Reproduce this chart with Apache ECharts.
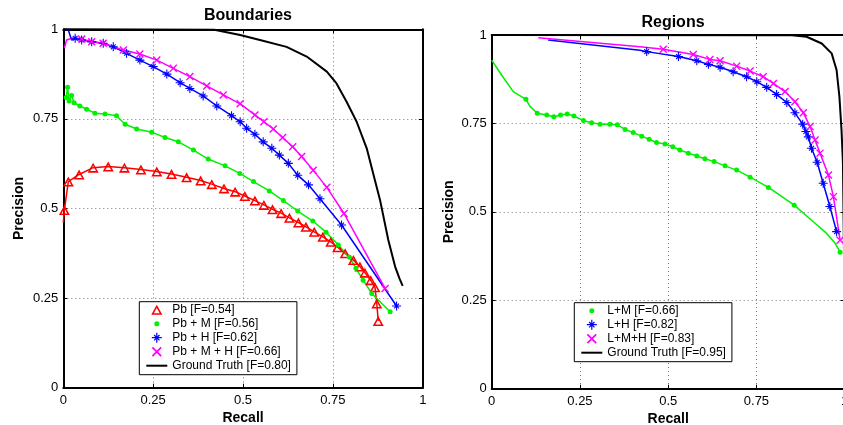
<!DOCTYPE html>
<html>
<head>
<meta charset="utf-8">
<script src="https://cdn.jsdelivr.net/npm/echarts@6/dist/echarts.min.js"></script>
<style>
html,body{margin:0;padding:0;background:#fff;}
#chart{width:843px;height:425px;}
</style>
</head>
<body>
<div id="chart"></div>
<script>
// ---------- data (recall, precision) ----------
const tickValues = [0, 0.25, 0.5, 0.75, 1];
const tickLabels = ['0', '0.25', '0.5', '0.75', '1'];

const leftTitle = 'Boundaries';
const rightTitle = 'Regions';
const xName = 'Recall';
const yName = 'Precision';

const leftNames = ['Pb [F=0.54]', 'Pb + M [F=0.56]', 'Pb + H [F=0.62]', 'Pb + M + H [F=0.66]', 'Ground Truth [F=0.80]'];
const rightNames = ['L+M [F=0.66]', 'L+H [F=0.82]', 'L+M+H [F=0.83]', 'Ground Truth [F=0.95]'];

const pb = [[0,0.46],[0.003,0.496],[0.014,0.575],[0.044,0.595],[0.083,0.614],[0.125,0.617],[0.170,0.614],[0.216,0.609],[0.260,0.603],[0.301,0.596],[0.343,0.587],[0.382,0.578],[0.413,0.568],[0.447,0.556],[0.478,0.547],[0.505,0.535],[0.533,0.522],[0.558,0.510],[0.582,0.498],[0.606,0.487],[0.629,0.474],[0.654,0.461],[0.675,0.449],[0.698,0.435],[0.722,0.421],[0.744,0.407],[0.763,0.392],[0.784,0.375],[0.807,0.356],[0.825,0.338],[0.839,0.321],[0.855,0.300],[0.867,0.280],[0.872,0.235],[0.876,0.186]];
const pbPlain = [0];

const pbm = [[0.008,0.81],[0.012,0.838],[0.016,0.80],[0.023,0.815],[0.030,0.795],[0.046,0.786],[0.065,0.777],[0.088,0.766],[0.116,0.764],[0.148,0.759],[0.172,0.735],[0.204,0.722],[0.246,0.713],[0.283,0.698],[0.320,0.686],[0.362,0.663],[0.403,0.638],[0.450,0.619],[0.491,0.598],[0.529,0.575],[0.573,0.549],[0.612,0.522],[0.652,0.493],[0.694,0.465],[0.731,0.434],[0.765,0.398],[0.796,0.364],[0.814,0.333],[0.834,0.300],[0.858,0.263],[0.909,0.212]];
const pbmPlain = [];

const pbh = [[0.003,1.0],[0.014,0.998],[0.023,0.970],[0.033,0.975],[0.051,0.970],[0.079,0.965],[0.111,0.961],[0.139,0.951],[0.176,0.933],[0.213,0.914],[0.250,0.896],[0.288,0.875],[0.325,0.851],[0.352,0.835],[0.389,0.814],[0.427,0.786],[0.468,0.759],[0.492,0.742],[0.510,0.724],[0.533,0.707],[0.556,0.686],[0.580,0.668],[0.601,0.649],[0.626,0.626],[0.652,0.593],[0.682,0.566],[0.714,0.527],[0.774,0.454],[0.927,0.228]];
const pbhPlain = [0,1,2];

const pbmh = [[0.003,0.947],[0.009,0.970],[0.023,0.975],[0.051,0.973],[0.079,0.965],[0.111,0.961],[0.167,0.942],[0.213,0.931],[0.260,0.914],[0.306,0.891],[0.352,0.868],[0.399,0.842],[0.445,0.817],[0.492,0.792],[0.533,0.761],[0.558,0.742],[0.584,0.722],[0.610,0.698],[0.638,0.672],[0.663,0.645],[0.695,0.607],[0.733,0.559],[0.781,0.486],[0.895,0.277]];
const pbmhPlain = [0,1,2];

const gtLeft = [[0,1],[0.42,0.999],[0.492,0.984],[0.547,0.970],[0.621,0.951],[0.677,0.924],[0.733,0.882],[0.760,0.849],[0.788,0.798],[0.816,0.742],[0.844,0.668],[0.867,0.578],[0.881,0.524],[0.904,0.412],[0.923,0.338],[0.935,0.305],[0.944,0.284]];

const lm = [[0,0.929],[0.028,0.887],[0.061,0.840],[0.097,0.818],[0.108,0.799],[0.129,0.779],[0.156,0.774],[0.176,0.769],[0.195,0.774],[0.214,0.777],[0.233,0.771],[0.260,0.758],[0.283,0.752],[0.307,0.748],[0.335,0.748],[0.356,0.746],[0.378,0.733],[0.401,0.724],[0.425,0.714],[0.446,0.705],[0.467,0.696],[0.491,0.692],[0.513,0.684],[0.533,0.675],[0.557,0.666],[0.581,0.658],[0.604,0.650],[0.630,0.642],[0.661,0.630],[0.694,0.618],[0.732,0.598],[0.784,0.569],[0.857,0.519],[0.911,0.472],[0.949,0.439],[0.973,0.411],[0.987,0.386]];
const lmPlain = [0,1,2,4,33,34,35];

const lh = [[0.160,0.986],[0.420,0.957],[0.439,0.953],[0.529,0.939],[0.581,0.927],[0.614,0.917],[0.647,0.909],[0.684,0.896],[0.722,0.882],[0.751,0.868],[0.779,0.852],[0.807,0.832],[0.836,0.809],[0.859,0.780],[0.881,0.748],[0.890,0.727],[0.897,0.712],[0.906,0.680],[0.922,0.640],[0.939,0.581],[0.958,0.515],[0.977,0.444]];
const lhPlain = [0,1];

const lmh = [[0.132,0.992],[0.420,0.967],[0.486,0.960],[0.571,0.945],[0.618,0.931],[0.647,0.927],[0.694,0.912],[0.732,0.898],[0.769,0.882],[0.798,0.863],[0.831,0.840],[0.859,0.811],[0.883,0.780],[0.902,0.741],[0.916,0.703],[0.930,0.666],[0.954,0.604],[0.968,0.543],[0.987,0.420]];
const lmhPlain = [0,1];

const gtRight = [[0,1],[0.85,0.999],[0.892,0.995],[0.935,0.976],[0.963,0.948],[0.977,0.901],[0.985,0.826],[0.991,0.731],[0.995,0.64],[0.999,0.3]];

// ---------- styling ----------
const FONT = 'Liberation Sans, Arial, Helvetica, sans-serif';
const TRI = 'path://M0,-5L5,4L-5,4ZM0,-2.116L-2.62,2.6L2.62,2.6Z';
const STAR = 'path://M-0.6,-5L0.6,-5L0.6,5L-0.6,5ZM-5,-0.6L5,-0.6L5,0.6L-5,0.6ZM-2.263,-3.111L3.111,2.263L2.263,3.111L-3.111,-2.263ZM-3.111,2.263L2.263,-3.111L3.111,-2.263L-2.263,3.111Z';
const XMARK = 'path://M-3.041,-4.031L4.031,3.041L3.041,4.031L-4.031,-3.041ZM-4.031,3.041L3.041,-4.031L4.031,-3.041L-3.041,4.031Z';
const DOTICON = 'path://M-5,-5L-5,-5ZM5,5L5,5ZM2.5,0A2.5,2.5,0,1,1,-2.5,0A2.5,2.5,0,1,1,2.5,0Z';
const LINEICON = 'path://M0,0L21,0L21,2L0,2Z';

function build(arr, plain) {
  return arr.map((p, i) => plain.indexOf(i) >= 0 ? {value: p, symbol: 'none'} : p);
}

function lineSeries(name, data, color, symbol, size, axisIdx, width) {
  return {
    type: 'line', name: name, data: data,
    xAxisIndex: axisIdx, yAxisIndex: axisIdx,
    symbol: symbol, symbolSize: size, showSymbol: symbol !== 'none', showAllSymbol: true,
    lineStyle: {color: color, width: width || 1.5},
    itemStyle: {color: color, borderWidth: 0},
    emphasis: {disabled: true},
    clip: false, animation: false, z: 3
  };
}

function fmt(v) { return tickLabels[tickValues.indexOf(Math.round(v * 100) / 100)]; }

function xAx(grid, primary) {
  return {
    type: 'value', gridIndex: grid, min: 0, max: 1, interval: 0.25,
    position: primary ? 'bottom' : 'top',
    name: primary ? xName : '', nameLocation: 'middle', nameGap: 20,
    nameTextStyle: {fontFamily: FONT, fontSize: 14, fontWeight: 'bold', color: '#000'},
    axisLine: {show: true, onZero: false, lineStyle: {color: '#000', width: 2}},
    axisTick: {show: true, inside: true, length: 4, lineStyle: {color: '#000', width: 1}},
    axisLabel: {show: primary, margin: 6, color: '#000', fontFamily: FONT, fontSize: 13,
      showMinLabel: true, showMaxLabel: true, formatter: fmt},
    splitLine: {show: primary, lineStyle: {color: '#777', width: 1, type: [1, 3]}}
  };
}
function yAx(grid, primary, gap) {
  return {
    type: 'value', gridIndex: grid, min: 0, max: 1, interval: 0.25,
    position: primary ? 'left' : 'right',
    name: primary ? yName : '', nameLocation: 'middle', nameGap: gap,
    nameTextStyle: {fontFamily: FONT, fontSize: 14, fontWeight: 'bold', color: '#000'},
    axisLine: {show: true, onZero: false, lineStyle: {color: '#000', width: 2}},
    axisTick: {show: true, inside: true, length: 4, lineStyle: {color: '#000', width: 1}},
    axisLabel: {show: primary, margin: 5, color: '#000', fontFamily: FONT, fontSize: 13,
      showMinLabel: true, showMaxLabel: true, formatter: fmt},
    splitLine: {show: primary, lineStyle: {color: '#777', width: 1, type: [1, 3]}}
  };
}

function legend(left, top, items) {
  return {
    left: left, top: top, orient: 'vertical',
    borderColor: '#000', borderWidth: 1, backgroundColor: '#fff',
    padding: [1, 6, 2, 7], itemWidth: 21, itemHeight: 10, itemGap: 0,
    symbolKeepAspect: true, selectedMode: false,
    textStyle: {fontFamily: FONT, fontSize: 12, color: '#000', lineHeight: 14},
    data: items, z: 10
  };
}

const chart = echarts.init(document.getElementById('chart'), null, {renderer: 'canvas'});
chart.setOption({
  backgroundColor: '#fff',
  animation: false,
  title: [
    {text: leftTitle, left: 243, top: 3, textAlign: 'center',
      textStyle: {fontFamily: FONT, fontSize: 16, fontWeight: 'bold', color: '#000'}},
    {text: rightTitle, left: 668, top: 10, textAlign: 'center',
      textStyle: {fontFamily: FONT, fontSize: 16, fontWeight: 'bold', color: '#000'}}
  ],
  grid: [
    {left: 63.3, top: 29.3, width: 359.5, height: 358.4, containLabel: false, outerBoundsMode: 'none'},
    {left: 491.7, top: 35, width: 353, height: 353.7, containLabel: false, outerBoundsMode: 'none'}
  ],
  xAxis: [xAx(0, true), xAx(0, false), xAx(1, true), xAx(1, false)],
  yAxis: [yAx(0, true, 37), yAx(0, false, 0), yAx(1, true, 36), yAx(1, false, 0)],
  legend: [
    legend(139.3, 301.7, [
      {name: leftNames[0], icon: TRI}, {name: leftNames[1], icon: DOTICON},
      {name: leftNames[2], icon: STAR}, {name: leftNames[3], icon: XMARK},
      {name: leftNames[4], icon: LINEICON}
    ]),
    legend(574.3, 302.7, [
      {name: rightNames[0], icon: DOTICON}, {name: rightNames[1], icon: STAR},
      {name: rightNames[2], icon: XMARK}, {name: rightNames[3], icon: LINEICON}
    ])
  ],
  series: [
    lineSeries(leftNames[0], build(pb, pbPlain), '#ff0000', TRI, [11, 10], 0),
    lineSeries(leftNames[1], build(pbm, pbmPlain), '#00f000', 'circle', 5, 0),
    lineSeries(leftNames[2], build(pbh, pbhPlain), '#0000ff', STAR, 9, 0),
    lineSeries(leftNames[3], build(pbmh, pbmhPlain), '#ff00ff', XMARK, 8, 0),
    lineSeries(leftNames[4], gtLeft, '#000000', 'none', 0, 0, 2),
    lineSeries(rightNames[0], build(lm, lmPlain), '#00f000', 'circle', 5, 2),
    lineSeries(rightNames[1], build(lh, lhPlain), '#0000ff', STAR, 9, 2),
    lineSeries(rightNames[2], build(lmh, lmhPlain), '#ff00ff', XMARK, 8, 2),
    lineSeries(rightNames[3], gtRight, '#000000', 'none', 0, 2, 2)
  ]
});
</script>
</body>
</html>
